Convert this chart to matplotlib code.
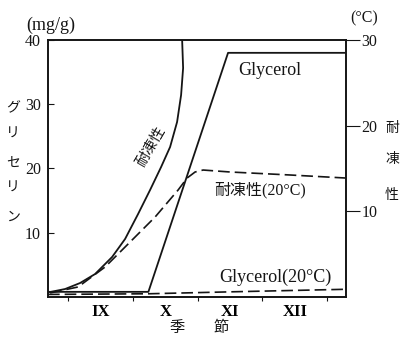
import numpy as np
import matplotlib.pyplot as plt

plt.rcParams['font.family'] = ['Liberation Serif', 'Noto Sans CJK JP']

# months: 9 = start of September ... 13 = end of December
tol_x = [8.722, 8.954, 9.185, 9.417, 9.680, 9.880, 10.081, 10.266, 10.436, 10.575,
         10.683, 10.745, 10.776, 10.761]
tol_y = [0.58, 0.93, 1.63, 2.68, 4.67, 6.77, 9.69, 12.49, 15.17, 17.51,
         20.43, 23.58, 26.73, 30.0]  # deg C

tol20_x = [8.722, 9.154, 9.571, 9.988, 10.344, 10.699, 10.838, 10.961, 11.085,
           11.502, 12.429, 13.278]
tol20_y = [0.47, 1.17, 3.50, 6.65, 9.34, 12.49, 13.89, 14.59, 14.82,
           14.59, 14.24, 13.89]  # deg C

gly_x = [8.69, 10.24, 11.47, 13.29]
gly_y = [0.8, 0.8, 38.0, 38.0]  # mg/g

gly20_x = [8.69, 10.24, 11.5, 13.29]
gly20_y = [0.4, 0.5, 0.8, 1.2]  # mg/g

month_pos = [9.5, 10.5, 11.5, 12.5]
month_lab = ['IX', 'X', 'XI', 'XII']

ink = '#151515'
fig = plt.figure(figsize=(4.01, 3.40), dpi=100)
ax = fig.add_axes([0.1197, 0.1265, 0.743, 0.7559])
ax2 = ax.twinx()

ax.plot(gly_x, gly_y, color=ink, lw=1.3)
ax.plot(gly20_x, gly20_y, color=ink, lw=1.2, dashes=(7, 3))
ax2.plot(tol_x, tol_y, color=ink, lw=1.3)
ax2.plot(tol20_x, tol20_y, color=ink, lw=1.2, dashes=(7, 3))

ax.set_xlim(8.69, 13.29)
ax.set_ylim(0, 40)
ax2.set_ylim(0, 30)

for a in (ax, ax2):
    for s in a.spines.values():
        s.set_linewidth(1.2)
        s.set_color(ink)

ax.set_yticks([10, 20, 30, 40])
ax.tick_params(axis='y', direction='in', length=4, pad=5, labelsize=11.5, colors=ink)
ax2.set_yticks([10, 20, 30])
ax2.tick_params(axis='y', direction='out', length=10, pad=1, labelsize=11.5, colors=ink)

ax.set_xticks([9, 10, 11, 12, 13])
ax.set_xticklabels([])
ax.tick_params(axis='x', direction='out', length=3, colors=ink)
ax.set_xticks(month_pos, minor=True)
ax.set_xticklabels(month_lab, minor=True, fontsize=12, fontweight='bold')
ax.tick_params(axis='x', which='minor', length=0, pad=5)

# labels inside the plot
ax.text(12.12, 35.3, 'Glycerol', fontsize=13, ha='center', va='center', color=ink)
ax.text(12.2, 3.0, 'Glycerol(20°C)', fontsize=13, ha='center', va='center', color=ink)
ax2.text(11.97, 12.5, '耐凍性(20°C)', fontsize=11.5, ha='center', va='center', color=ink)
ax2.text(10.28, 17.5, '耐凍性', fontsize=10.5, ha='center', va='center', rotation=60, color=ink)

# labels outside
fig.text(51 / 401, 1 - 25 / 340, '(mg/g)', fontsize=13, ha='center', va='center', color=ink)
fig.text(364 / 401, 1 - 18 / 340, '(°C)', fontsize=11.5, ha='center', va='center', color=ink)
for ch, py in zip('グリセリン', [109, 134, 163, 188, 217]):
    fig.text(13 / 401, 1 - py / 340, ch, fontsize=10, ha='center', va='center', color=ink)
for ch, py in zip('耐凍性', [128, 160, 195]):
    fig.text(392 / 401, 1 - py / 340, ch, fontsize=10, ha='center', va='center', color=ink)
fig.text(177 / 401, 1 - 328 / 340, '季', fontsize=11, ha='center', va='center', color=ink)
fig.text(221 / 401, 1 - 328 / 340, '節', fontsize=11, ha='center', va='center', color=ink)

fig.savefig('out.png', dpi=100)
